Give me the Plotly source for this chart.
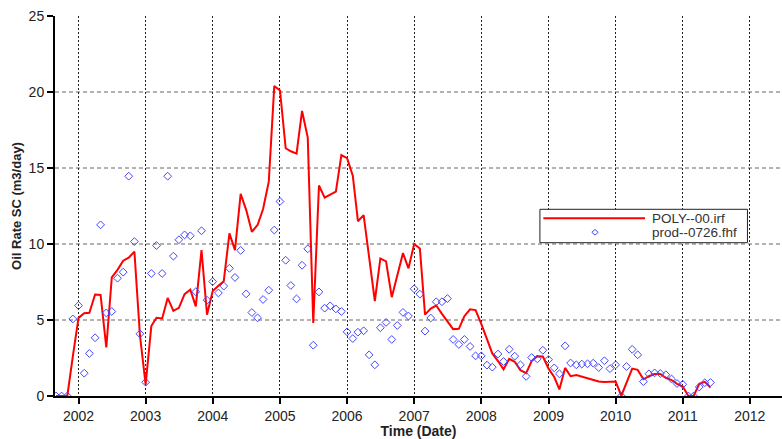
import pandas as pd
import plotly.graph_objects as go

# Monthly time axis (first of each month), Sep 2001 .. Jun 2011
months = pd.date_range("2001-09-01", periods=118, freq="MS")

# Simulated oil rate, POLY--00.irf (m3/day)
sim_rate = [
    0, 0, 0, 2.6,
    5.14, 5.45, 5.47, 6.68, 6.65, 3.2, 7.8, 8.3, 8.9, 9.1, 9.5, 4.0,
    0.75, 4.6, 5.15, 5.1, 6.45, 5.6, 5.8, 6.7, 7.0, 5.9, 9.6, 5.35,
    6.9, 7.25, 7.55, 10.7, 9.6, 13.3, 12.25, 10.8, 11.25, 12.3, 14.1, 20.4,
    20.1, 16.3, 16.1, 15.95, 18.75, 17.0, 4.8, 13.85, 13.05, 13.25, 13.45, 15.85,
    15.65, 14.5, 11.5, 11.9, 9.2, 6.25, 9.05, 8.85, 6.5, 7.9, 9.4, 8.4,
    10.0, 9.7, 5.35, 5.75, 5.95, 5.4, 4.9, 4.4, 4.42, 5.25, 5.7, 5.65,
    4.75, 3.8, 2.8, 2.3, 1.75, 2.45, 2.25, 1.7, 1.5, 2.3, 2.62, 2.6,
    1.8, 1.25, 0.43, 1.85, 1.3, 1.38, 1.28, 1.15, 1.05, 0.95, 0.92, 0.92,
    0.95, 0.02, 0.9, 1.8, 1.72, 1.1, 1.3, 1.45, 1.45, 1.2, 1.05, 0.8,
    0.62, 0, 0, 0.8, 0.93, 0.55,
]

# Measured oil rate, prod--0726.fhf (m3/day)
obs_rate = [
    0, 0, 0, 5.07,
    5.95, 1.5, 2.8, 3.83, 11.26, 5.47, 5.56, 7.75, 8.15, 14.46, 10.16, 4.09,
    0.91, 8.06, 9.9, 8.06, 14.46, 9.2, 10.28, 10.6, 10.54, 6.86, 10.87, 6.3,
    7.53, 6.78, 7.23, 8.4, 7.8, 9.58, 6.72, 5.49, 5.14, 6.35, 6.96, 10.92,
    12.8, 8.93, 7.27, 6.39, 8.6, 9.68, 3.34, 6.85, 5.78, 5.93, 5.73, 5.56,
    4.22, 3.78, 4.2, 4.29, 2.71, 2.05, 4.49, 4.84, 3.72, 4.64, 5.5, 5.26,
    7.05, 6.7, 4.27, 5.13, 6.2, 6.2, 6.41, 3.72, 3.39, 3.72, 3.26, 2.64,
    2.64, 2.03, 1.9, 2.76, 2.27, 3.07, 2.62, 2.05, 1.29, 2.53, 2.44, 3.01,
    2.39, 1.85, 1.46, 3.3, 2.17, 2.05, 2.1, 2.12, 2.16, 1.87, 2.32, 1.8,
    2.05, 0, 1.94, 3.07, 2.71, 0.95, 1.46, 1.52, 1.48, 1.4, 1.12, 0.82,
    0.77, 0, 0, 0.59, 0.87, 0.89,
]

series_names = ["POLY--00.irf", "prod--0726.fhf"]
y_ticks = [0, 5, 10, 15, 20, 25]
y_grid = [5, 10, 15, 20]

FONT = "Liberation Sans, Arial, sans-serif"
RED = "#ff0000"
BLUE = "#4646ff"

fig = go.Figure()
fig.add_trace(go.Scatter(
    x=months, y=sim_rate, mode="lines", name=series_names[0],
    line=dict(color=RED, width=2), showlegend=False,
))
fig.add_trace(go.Scatter(
    x=months, y=obs_rate, mode="markers", name=series_names[1],
    marker=dict(symbol="diamond-open", size=6, color=BLUE,
                line=dict(width=1, color=BLUE)),
    showlegend=False,
))

# horizontal dashed grid (no line at the top edge)
for g in y_grid:
    fig.add_shape(type="line", xref="paper", yref="y", x0=0, x1=1, y0=g, y1=g,
                  line=dict(color="#666666", width=1, dash="4px,3px"), layer="below")

# compact boxed legend in paper coordinates
lx0, lx1, ly0, ly1 = 0.667, 0.9525, 0.4034, 0.4913
row1, row2 = 0.4676, 0.4308
fig.add_shape(type="rect", xref="paper", yref="paper", x0=lx0, x1=lx1, y0=ly0, y1=ly1,
              line=dict(color="#222222", width=1), fillcolor="white", layer="above")
fig.add_shape(type="line", xref="paper", yref="paper", x0=0.6717, x1=0.8116, y0=row1, y1=row1,
              line=dict(color=RED, width=2), layer="above")
cx, hw, hh = 0.7428, 0.0044, 0.0074
fig.add_shape(type="path", xref="paper", yref="paper",
              path=f"M {cx - hw},{row2} L {cx},{row2 + hh} L {cx + hw},{row2} L {cx},{row2 - hh} Z",
              line=dict(color=BLUE, width=1), layer="above")
for name, ry in zip(series_names, [row1, row2]):
    fig.add_annotation(x=0.8184, y=ry, xref="paper", yref="paper", text=name,
                       showarrow=False, xanchor="left", yanchor="middle",
                       font=dict(size=13.5, family=FONT, color="#333333"))

fig.update_layout(
    width=782, height=439,
    margin=dict(l=55, r=0, t=16, b=43),
    paper_bgcolor="white", plot_bgcolor="white",
    font=dict(family=FONT, color="#222222"),
    showlegend=False,
    xaxis=dict(
        type="date",
        range=["2001-08-26", "2012-06-24"],
        tick0="2002-01-01", dtick="M12", tickformat="%Y",
        showgrid=True, gridcolor="#222222", gridwidth=1, griddash="2px,2px",
        showline=True, linecolor="black", linewidth=2,
        ticks="outside", ticklen=6, tickwidth=2, tickcolor="black",
        tickfont=dict(size=14, family=FONT, color="#222222"),
        title=dict(text="<b>Time (Date)</b>", font=dict(size=14, family=FONT, color="#222222"),
                   standoff=5),
        zeroline=False,
    ),
    yaxis=dict(
        range=[0, 25], tickvals=y_ticks,
        showgrid=False,
        showline=True, linecolor="black", linewidth=2,
        ticks="outside", ticklen=6, tickwidth=2, tickcolor="black",
        tickfont=dict(size=14, family=FONT, color="#222222"),
        title=dict(text="<b>Oil Rate SC (m3/day)</b>", font=dict(size=13, family=FONT, color="#222222"),
                   standoff=4),
        zeroline=False,
    ),
)

fig.write_html("out.html")
